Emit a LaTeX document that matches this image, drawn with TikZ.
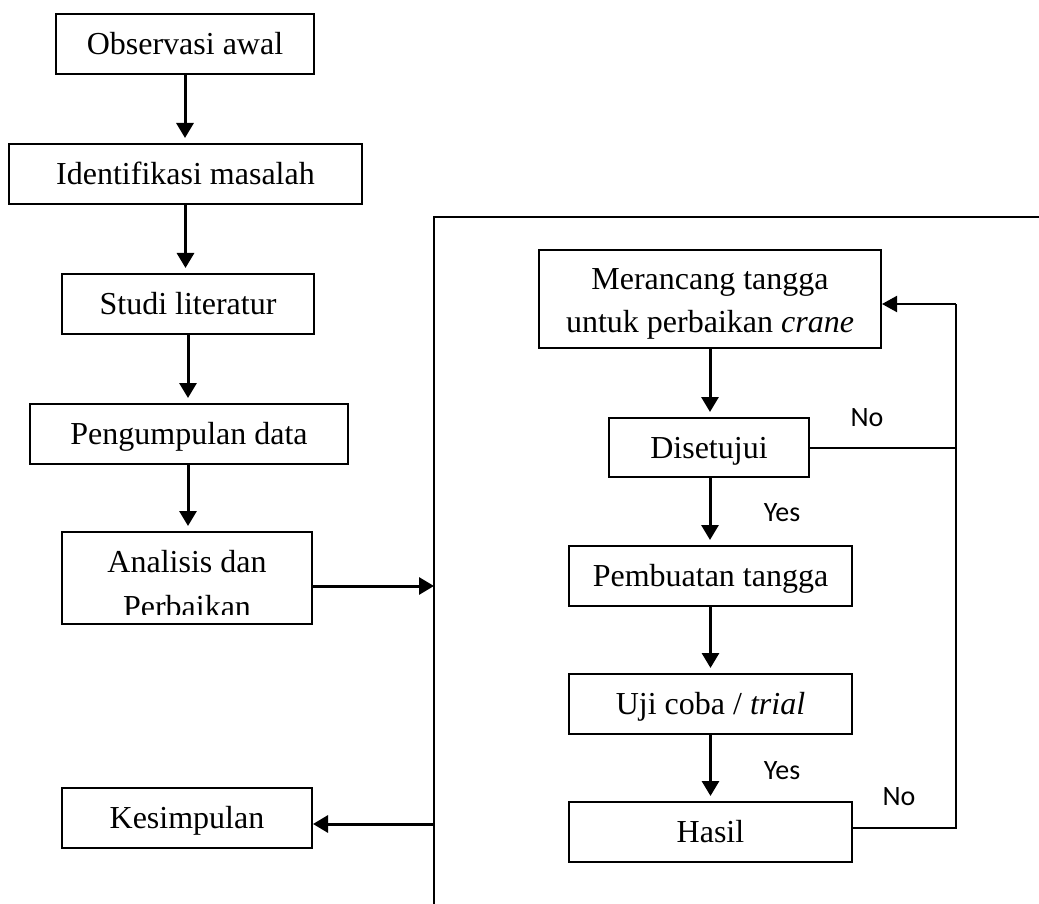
\documentclass[tikz,border=0pt]{standalone}
\usepackage{fontspec}
\setmainfont{Liberation Serif}
\newfontfamily\labelfont{Carlito}
\usetikzlibrary{arrows.meta}
\begin{document}
\begin{tikzpicture}[x=1pt,y=-1pt,
  linetext/.style={inner sep=0pt, anchor=base, font=\fontsize{32}{42}\selectfont},
  boxtext/.style={inner sep=0pt, align=center, text height=24pt, text depth=3pt,
    font=\fontsize{32}{42}\selectfont},
  box/.style={boxtext, draw, line width=2pt, rectangle},
  arr/.style={line width=3pt, -{Triangle[width=17pt,length=15pt]}},
  fbarr/.style={line width=2pt, -{Triangle[width=16pt,length=15pt]}},
  thinline/.style={line width=2pt},
  lbl/.style={font=\labelfont\fontsize{28}{34}\selectfont, inner sep=0pt}]
\useasboundingbox (0,0) rectangle (1039,904);

% left column
\node[box, minimum width=258pt, minimum height=60pt] (obs) at (185,44) {Observasi awal};
\node[box, minimum width=353pt, minimum height=60pt] (iden) at (185.5,174) {Identifikasi masalah};
\node[box, minimum width=252pt, minimum height=60pt] (stud) at (188,304) {Studi literatur};
\node[box, minimum width=318pt, minimum height=60pt] (peng) at (189,434) {Pengumpulan data};
\node[box, minimum width=250pt, minimum height=92pt] (anal) at (187,578) {};
\begin{scope}
  \clip (62,532) rectangle (312,614);
  \node[linetext] (analtext1) at (187,572) {Analisis dan};
  \node[linetext] (analtext2) at (187,617) {Perbaikan};
\end{scope}
\node[box, minimum width=250pt, minimum height=60pt] (kes) at (187,818) {Kesimpulan};

\draw[arr, shorten >=5pt] (obs.south) -- (obs.south |- iden.north);
\draw[arr, shorten >=5pt] (iden.south) -- (iden.south |- stud.north);
\draw[arr, shorten >=5pt] (stud.south) -- (stud.south |- peng.north);
\draw[arr, shorten >=5pt] (stud.south |- peng.south) -- (stud.south |- anal.north);

% frame
\coordinate (fbot) at (434,904);
\coordinate (ftop) at (434,217);
\coordinate (fright) at (1039,217);
\draw[thinline] (fbot) -- (ftop) -- (fright);
\coordinate (f1) at (434,586);
\coordinate (f2) at (434,824);
\draw[arr] (anal.east |- f1) -- (f1);
\draw[arr] (f2) -- (kes.east |- f2);

% right column
\node[box, minimum width=342pt, minimum height=98pt] (mer) at (710,299) {};
\node[linetext] (mertext1) at (710,290) {Merancang tangga};
\node[linetext] (mertext2) at (710,332) {untuk perbaikan \textit{crane}};
\node[box, minimum width=200pt, minimum height=59pt] (dis) at (709,447.5) {Disetujui};
\node[box, minimum width=283pt, minimum height=60pt] (pemb) at (710.5,576) {Pembuatan tangga};
\node[box, minimum width=283pt, minimum height=60pt] (uji) at (710.5,704) {Uji coba / \textit{trial}};
\node[box, minimum width=283pt, minimum height=60pt] (has) at (710.5,832) {Hasil};

\draw[arr, shorten >=5pt] (mer.south) -- (mer.south |- dis.north);
\draw[arr, shorten >=5pt] (mer.south |- dis.south) -- (mer.south |- pemb.north);
\draw[arr, shorten >=5pt] (pemb.south) -- (pemb.south |- uji.north);
\draw[arr, shorten >=5pt] (uji.south) -- (uji.south |- has.north);

% feedback
\coordinate (rt) at (956,304);
\coordinate (rb) at (956,828);
\draw[thinline] (has.east |- rb) -- (rb) -- (rt);
\draw[fbarr] (rt) -- (mer.east |- rt);
\draw[thinline] (dis.east) -- (dis.east -| rb);

% labels
\node[lbl] (no1) at (867,418) {No};
\node[lbl] (yes1) at (782,513) {Yes};
\node[lbl] (yes2) at (782,771) {Yes};
\node[lbl] (no2) at (899,797) {No};
\end{tikzpicture}
\end{document}
